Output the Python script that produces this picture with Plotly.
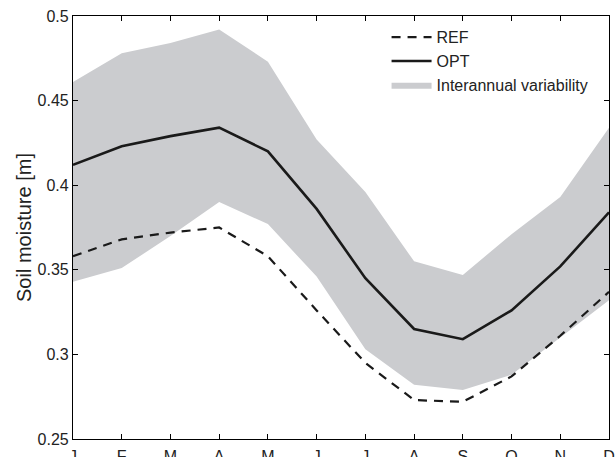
import plotly.graph_objects as go

months = ["J", "F", "M", "A", "M", "J", "J", "A", "S", "O", "N", "D"]
ref_vals = [0.358, 0.368, 0.372, 0.375, 0.358, 0.326, 0.295, 0.273, 0.272, 0.287, 0.311, 0.337]
opt_vals = [0.412, 0.423, 0.429, 0.434, 0.420, 0.386, 0.345, 0.315, 0.309, 0.326, 0.352, 0.384]
band_low = [0.343, 0.351, 0.370, 0.390, 0.377, 0.346, 0.303, 0.282, 0.279, 0.288, 0.310, 0.332]
band_high = [0.461, 0.478, 0.484, 0.492, 0.473, 0.427, 0.396, 0.355, 0.347, 0.371, 0.393, 0.434]
y_ticks = [0.25, 0.3, 0.35, 0.4, 0.45, 0.5]
y_ticktext = ["0.25", "0.3", "0.35", "0.4", "0.45", "0.5"]

x = list(range(len(months)))
band_color = "#cbcccf"
line_color = "#1a1a1a"

fig = go.Figure()
fig.add_trace(go.Scatter(x=x, y=band_low, mode="lines", line=dict(width=0, color=band_color),
                         showlegend=False, hoverinfo="skip"))
fig.add_trace(go.Scatter(x=x, y=band_high, mode="lines", line=dict(width=0, color=band_color),
                         fill="tonexty", fillcolor=band_color, name="Interannual variability",
                         legendrank=3))
fig.add_trace(go.Scatter(x=x, y=ref_vals, mode="lines", name="REF",
                         line=dict(color=line_color, width=2.2, dash="9px,7px"), legendrank=1))
fig.add_trace(go.Scatter(x=x, y=opt_vals, mode="lines", name="OPT",
                         line=dict(color=line_color, width=2.6), legendrank=2))

axis_common = dict(showline=True, linecolor="black", linewidth=1.2, mirror="ticks",
                   ticks="inside", ticklen=5, tickcolor="black", showgrid=False, zeroline=False,
                   tickfont=dict(size=16, color="#222"), automargin=False)

fig.update_layout(
    width=615, height=457,
    margin=dict(l=73, r=6, t=16, b=18),
    paper_bgcolor="white", plot_bgcolor="white",
    font=dict(family="Liberation Sans, Arial, sans-serif", size=16, color="#222"),
    xaxis=dict(range=[0, 11], tickvals=x, ticktext=months, ticklabelstandoff=3, **axis_common),
    yaxis=dict(range=[0.25, 0.5], tickvals=y_ticks, ticktext=y_ticktext,
               title=dict(text="Soil moisture [m]", font=dict(size=20), standoff=0), **axis_common),
    legend=dict(x=0.585, y=0.99, xanchor="left", yanchor="top", bgcolor="rgba(0,0,0,0)",
                font=dict(size=16), itemwidth=40, tracegroupgap=0, traceorder="normal"),
    showlegend=True,
)

fig.write_html("out.html", config={"displayModeBar": False},
               post_script="document.body.style.margin='0';document.body.style.overflow='hidden';")
